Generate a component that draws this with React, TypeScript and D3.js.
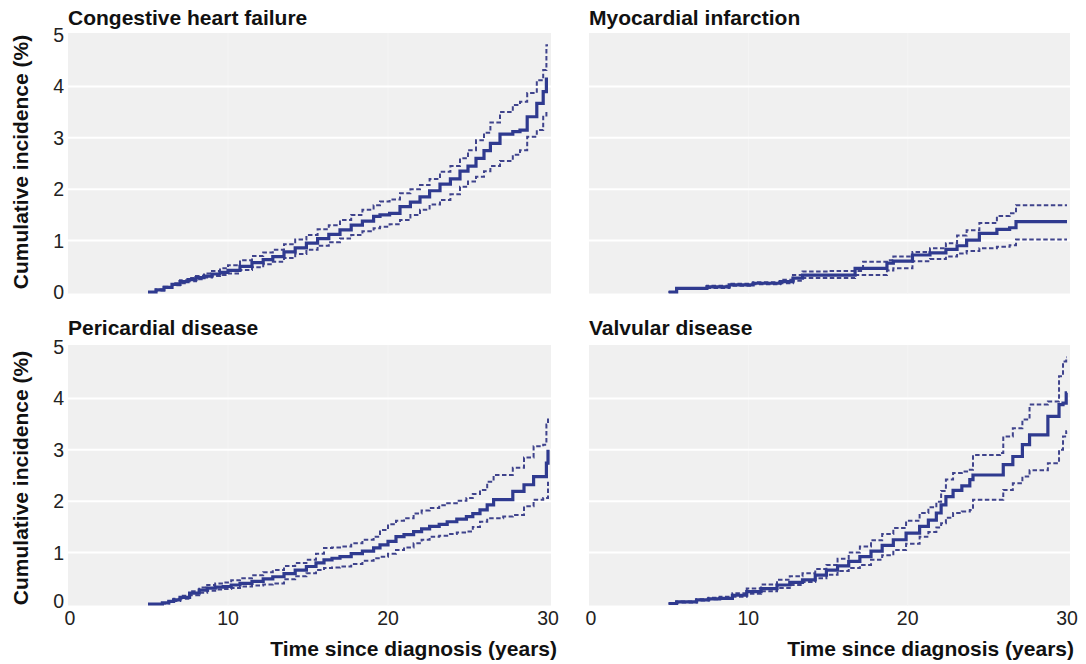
import React from 'react';
import * as d3 from 'd3';

// ---------- data ----------
const panelTitles = ['Congestive heart failure', 'Myocardial infarction', 'Pericardial disease', 'Valvular disease'];
const xTicks = [0, 10, 20, 30];
const yTicks = [0, 1, 2, 3, 4, 5];
const xAxisTitle = 'Time since diagnosis (years)';
const yAxisTitle = 'Cumulative incidence (%)';

// Congestive heart failure
const chfTime = [5, 5.5, 6, 6.5, 7, 7.5, 8, 8.5, 9, 9.5, 10, 10.75, 11.5, 12.2, 12.8, 13.5, 14.2, 14.9, 15.6, 16.3, 17, 17.7, 18.4, 19.1, 19.5, 20.1, 20.75, 21.4, 22, 22.6, 23.25, 23.9, 24.5, 25, 25.5, 26, 26.4, 27, 27.8, 28.25, 28.7, 29.3, 29.7, 29.9, 30];
const chfEst = [0, 0.04, 0.09, 0.15, 0.2, 0.24, 0.28, 0.31, 0.35, 0.38, 0.42, 0.5, 0.57, 0.63, 0.69, 0.78, 0.86, 0.95, 1.04, 1.12, 1.21, 1.3, 1.38, 1.47, 1.5, 1.53, 1.66, 1.75, 1.85, 1.97, 2.1, 2.2, 2.35, 2.45, 2.6, 2.75, 2.89, 3.07, 3.12, 3.15, 3.41, 3.67, 3.9, 4.14, 4.14];
const chfUpper = [0, 0.05, 0.1, 0.17, 0.23, 0.27, 0.31, 0.36, 0.41, 0.46, 0.52, 0.62, 0.7, 0.77, 0.82, 0.93, 1.02, 1.11, 1.22, 1.3, 1.4, 1.5, 1.6, 1.69, 1.76, 1.8, 1.92, 2.0, 2.08, 2.2, 2.34, 2.45, 2.6, 2.76, 2.95, 3.1, 3.3, 3.5, 3.64, 3.7, 3.87, 4.12, 4.32, 4.8, 4.8];
const chfLower = [0, 0.03, 0.08, 0.13, 0.17, 0.21, 0.25, 0.28, 0.31, 0.33, 0.36, 0.43, 0.48, 0.54, 0.59, 0.66, 0.74, 0.82, 0.9, 0.97, 1.04, 1.11, 1.18, 1.24, 1.27, 1.32, 1.4, 1.5, 1.6, 1.7, 1.79, 1.9, 2.05, 2.15, 2.24, 2.35, 2.45, 2.55, 2.67, 2.76, 3.02, 3.15, 3.41, 3.51, 3.51];

// Myocardial infarction
const miTime = [5, 5.5, 7.4, 8.8, 10.3, 12, 12.8, 13.4, 15, 16.7, 17.2, 18.7, 19.1, 20.3, 21.4, 22.4, 23.1, 23.7, 24.5, 25.6, 26.4, 26.8, 30];
const miEst = [0, 0.07, 0.1, 0.14, 0.17, 0.2, 0.27, 0.33, 0.33, 0.46, 0.46, 0.56, 0.6, 0.72, 0.76, 0.83, 0.9, 1.01, 1.14, 1.22, 1.25, 1.37, 1.37];
const miUpper = [0, 0.08, 0.12, 0.16, 0.19, 0.24, 0.33, 0.4, 0.41, 0.41, 0.59, 0.62, 0.69, 0.78, 0.85, 0.95, 1.1, 1.2, 1.34, 1.48, 1.53, 1.69, 1.69];
const miLower = [0, 0.06, 0.08, 0.12, 0.15, 0.17, 0.22, 0.27, 0.27, 0.33, 0.33, 0.42, 0.46, 0.6, 0.64, 0.69, 0.75, 0.8, 0.85, 0.88, 0.91, 1.02, 1.02];

// Pericardial disease
const perTime = [5, 5.9, 6.3, 6.6, 7, 7.6, 8.2, 8.7, 9.2, 9.7, 10.2, 10.75, 11.5, 12.2, 12.8, 13.5, 14.2, 14.9, 15.5, 16, 16.5, 17, 17.7, 18.4, 19.1, 19.5, 20, 20.5, 21, 21.6, 22.1, 22.6, 23.2, 23.7, 24.3, 24.9, 25.3, 25.75, 26.2, 26.6, 27.2, 27.8, 28.5, 29.1, 29.7, 29.9, 30];
const perEst = [0, 0.02, 0.05, 0.08, 0.13, 0.21, 0.27, 0.31, 0.33, 0.34, 0.37, 0.4, 0.44, 0.49, 0.53, 0.59, 0.66, 0.73, 0.8, 0.86, 0.89, 0.92, 0.98, 1.03, 1.09, 1.15, 1.22, 1.31, 1.35, 1.41, 1.46, 1.51, 1.55, 1.6, 1.65, 1.7, 1.76, 1.83, 1.93, 2.03, 2.03, 2.19, 2.32, 2.48, 2.48, 2.74, 3.0];
const perUpper = [0, 0.02, 0.06, 0.1, 0.16, 0.25, 0.32, 0.37, 0.4, 0.42, 0.46, 0.5, 0.56, 0.62, 0.66, 0.74, 0.8, 0.86, 0.98, 1.09, 1.1, 1.12, 1.18, 1.25, 1.31, 1.44, 1.55, 1.62, 1.67, 1.76, 1.82, 1.87, 1.92, 1.96, 2.01, 2.06, 2.14, 2.22, 2.38, 2.51, 2.51, 2.65, 2.85, 3.07, 3.1, 3.49, 3.65];
const perLower = [0, 0.01, 0.04, 0.06, 0.1, 0.17, 0.22, 0.26, 0.28, 0.29, 0.31, 0.34, 0.36, 0.38, 0.4, 0.48, 0.54, 0.6, 0.66, 0.7, 0.71, 0.73, 0.78, 0.84, 0.89, 0.92, 0.98, 1.05, 1.1, 1.18, 1.25, 1.31, 1.33, 1.36, 1.39, 1.41, 1.5, 1.6, 1.67, 1.67, 1.7, 1.73, 1.9, 2.03, 2.06, 2.06, 2.38];

// Valvular disease
const valTime = [5, 5.5, 6.75, 7.5, 8.2, 9, 9.9, 10.8, 11.8, 12.6, 13.4, 14.2, 14.9, 15.6, 16.3, 17, 17.7, 18.4, 19.1, 19.9, 20.75, 21.3, 21.8, 22.1, 22.4, 22.85, 23.4, 23.9, 24.1, 25.8, 26, 26.6, 27.2, 27.65, 28.8, 29.1, 29.5, 29.75, 29.95, 30];
const valEst = [0.01, 0.04, 0.08, 0.1, 0.11, 0.17, 0.24, 0.3, 0.37, 0.42, 0.47, 0.56, 0.66, 0.74, 0.83, 0.92, 1.03, 1.14, 1.25, 1.38, 1.51, 1.63, 1.77, 1.93, 2.09, 2.21, 2.3, 2.42, 2.51, 2.51, 2.71, 2.87, 3.1, 3.29, 3.65, 3.65, 3.88, 3.91, 4.11, 4.11];
const valUpper = [0.01, 0.05, 0.09, 0.12, 0.14, 0.21, 0.3, 0.38, 0.47, 0.54, 0.6, 0.68, 0.76, 0.88, 1.0, 1.12, 1.24, 1.36, 1.48, 1.62, 1.77, 1.88, 1.99, 2.2, 2.42, 2.55, 2.58, 2.61, 2.9, 2.94, 3.26, 3.42, 3.59, 3.88, 3.94, 3.94, 4.43, 4.72, 4.8, 4.8];
const valLower = [0.01, 0.03, 0.07, 0.09, 0.1, 0.14, 0.2, 0.25, 0.31, 0.37, 0.43, 0.5, 0.57, 0.64, 0.7, 0.76, 0.86, 0.95, 1.05, 1.17, 1.31, 1.4, 1.49, 1.57, 1.68, 1.77, 1.8, 1.83, 2.03, 2.03, 2.22, 2.35, 2.48, 2.6, 2.74, 2.74, 3.0, 3.26, 3.36, 3.36];

const panels = [
  { title: panelTitles[0], time: chfTime, est: chfEst, lo: chfLower, hi: chfUpper, col: 0, row: 0 },
  { title: panelTitles[1], time: miTime, est: miEst, lo: miLower, hi: miUpper, col: 1, row: 0 },
  { title: panelTitles[2], time: perTime, est: perEst, lo: perLower, hi: perUpper, col: 0, row: 1 },
  { title: panelTitles[3], time: valTime, est: valEst, lo: valLower, hi: valUpper, col: 1, row: 1 },
];

const FONT = '"Liberation Sans", Arial, Helvetica, sans-serif';
const LINE = '#2f3a8f';
const DASH = '#3f438c';

export default function App() {
  const cols = [
    { left: 68, right: 551, r0: 68, r1: 548 },
    { left: 589, right: 1070, r0: 589, r1: 1067 },
  ];
  const rows = [
    { zero: 292, five: 35, mid: 162 },
    { zero: 604, five: 347, mid: 478 },
  ];

  return (
    <svg width={1086} height={664} style={{ position: 'absolute', left: 0, top: 0, background: '#fff' }} fontFamily={FONT}>
      {panels.map((p, i) => {
        const c = cols[p.col];
        const r = rows[p.row];
        const x = d3.scaleLinear().domain([0, 30]).range([c.r0, c.r1]);
        const y = d3.scaleLinear().domain([0, 5]).range([r.zero, r.five]);
        const pts = (vals: number[]) => p.time.map((t, k) => [t, vals[k]] as [number, number]);
        const line = d3.line<[number, number]>().x(d => x(d[0])).y(d => y(d[1])).curve(d3.curveStepAfter);
        const top = y(5) - 2;
        const bottom = y(0) + 1.5;
        return (
          <g key={i}>
            <rect x={c.left} y={top} width={c.right - c.left} height={bottom - top} fill="#f0f0f0" />
            {[10, 20].map(t => (
              <line key={'v' + t} x1={x(t)} x2={x(t)} y1={top} y2={bottom} stroke="#f4f4f4" strokeWidth={1} />
            ))}
            {yTicks.filter(v => v > 0 && v < 5).map(v => (
              <line key={'h' + v} x1={c.left} x2={c.right} y1={y(v)} y2={y(v)} stroke="#ffffff" strokeWidth={2} />
            ))}
            <path d={line(pts(p.lo)) || ''} fill="none" stroke={DASH} strokeWidth={2} strokeDasharray="4.5,2.5" />
            <path d={line(pts(p.hi)) || ''} fill="none" stroke={DASH} strokeWidth={2} strokeDasharray="4.5,2.5" />
            <path d={line(pts(p.est)) || ''} fill="none" stroke={LINE} strokeWidth={3.2} />
            <text x={c.left} y={p.row === 0 ? 25 : 335} fontSize={21} fontWeight="bold" fill="#111">{p.title}</text>
            {p.col === 0 && yTicks.map(v => (
              <text key={'yt' + v} x={64} y={y(v) + (v === 0 && p.row === 1 ? 4 : 7)} fontSize={19.5} textAnchor="end" fill="#222">{v}</text>
            ))}
            {p.row === 1 && xTicks.map(t => (
              <text key={'xt' + t} x={x(t) + (t === 0 ? 2 : 0)} y={625} fontSize={19.5} textAnchor="middle" fill="#222">{t}</text>
            ))}
            {p.row === 1 && (
              <text x={c.right + (p.col === 0 ? 6 : 4)} y={656} fontSize={21} fontWeight="bold" textAnchor="end" fill="#111">{xAxisTitle}</text>
            )}
            {p.col === 0 && (
              <text transform={`translate(28,${r.mid}) rotate(-90)`} fontSize={21} fontWeight="bold" textAnchor="middle" fill="#111">{yAxisTitle}</text>
            )}
          </g>
        );
      })}
    </svg>
  );
}
